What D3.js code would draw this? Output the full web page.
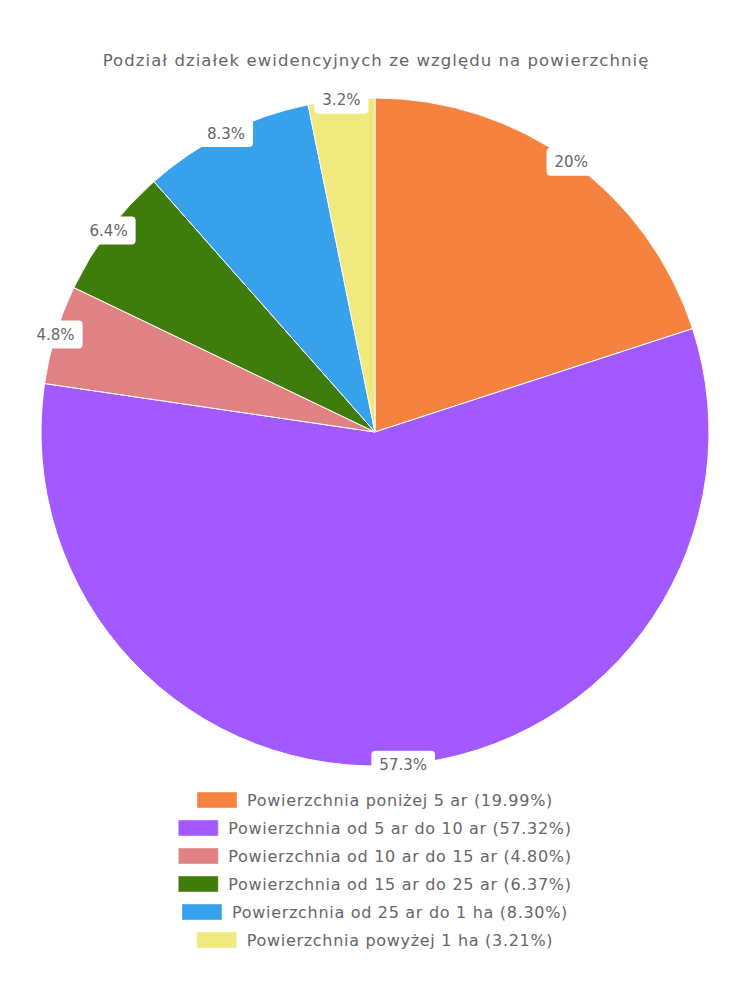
<!DOCTYPE html>
<html><head><meta charset="utf-8">
<script src="https://cdn.jsdelivr.net/npm/d3@7"></script>
<style>body{margin:0;background:#fff}svg{display:block}text{font-family:"DejaVu Sans",sans-serif}</style>
</head><body>
<svg id="c" width="750" height="1000"></svg>
<script>
const title = "Podział działek ewidencyjnych ze względu na powierzchnię";
const categories = ["Powierzchnia poniżej 5 ar","Powierzchnia od 5 ar do 10 ar","Powierzchnia od 10 ar do 15 ar","Powierzchnia od 15 ar do 25 ar","Powierzchnia od 25 ar do 1 ha","Powierzchnia powyżej 1 ha"];
const values = [19.99, 57.32, 4.80, 6.37, 8.30, 3.21];
const sliceLabels = ["20%","57.3%","4.8%","6.4%","8.3%","3.2%"];
const colors = ["#f5833f","#a259ff","#e08283","#3e7c0b","#37a2eb","#f0ea7e"];

const svg = d3.select("#c");
const cx = 375, cy = 432, R = 334;
function fit(t, target){
  const w = t.node().getComputedTextLength();
  const n = t.text().length;
  t.attr("letter-spacing", ((target - w)/n).toFixed(2));
}
const tt = svg.append("text").attr("x",376).attr("y",66).attr("text-anchor","middle")
  .attr("font-size",16.5).attr("fill","#666").text(title);
fit(tt, 547);

const pie = d3.pie().sort(null).value(d=>d)(values);
const arc = d3.arc().innerRadius(0).outerRadius(R);
const g = svg.append("g").attr("transform",`translate(${cx},${cy})`);
g.selectAll("path").data(pie).join("path").attr("d",arc)
  .attr("fill",(d,i)=>colors[i]).attr("stroke","#fff").attr("stroke-width",1);

const lg = g.append("g");
pie.forEach((d,i)=>{
  const a = (d.startAngle+d.endAngle)/2;
  const x = R*Math.sin(a), y = -R*Math.cos(a);
  const t = lg.append("text").attr("x",x).attr("y",y).attr("dy","0.36em")
    .attr("text-anchor","middle").attr("font-size",15).attr("fill","#666").text(sliceLabels[i]);
  const w = t.node().getComputedTextLength();
  lg.insert("rect","text").attr("x",x-w/2-8).attr("y",y-14).attr("width",w+16).attr("height",28)
    .attr("rx",4).attr("fill","#fff");
});

const leg = svg.append("g");
categories.forEach((c,i)=>{
  const y = 800 + i*28;
  const t = leg.append("text").attr("y",y).attr("dy","0.35em").attr("font-size",16)
    .attr("fill","#666").attr("letter-spacing",0.7)
    .text(`${c} (${values[i].toFixed(2)}%)`);
  const w = t.node().getComputedTextLength();
  const total = 40 + 10 + w;
  const x0 = 375 - total/2;
  t.attr("x", x0+50);
  leg.append("rect").attr("x",x0).attr("y",y-8).attr("width",40).attr("height",16)
    .attr("fill",colors[i]).attr("stroke","#fff").attr("stroke-opacity",0.4);
});
</script>
</body></html>
